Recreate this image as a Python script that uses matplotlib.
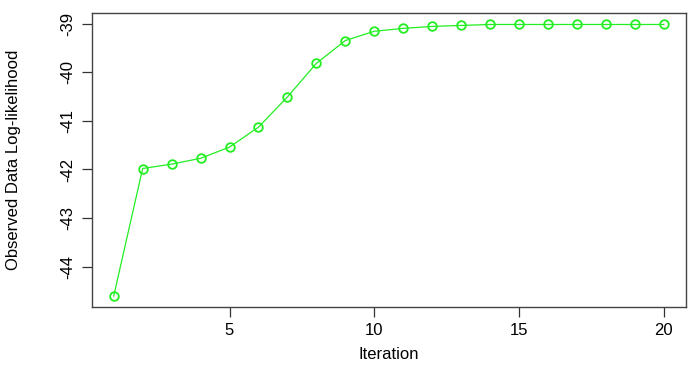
import matplotlib
matplotlib.use("Agg")
import matplotlib.pyplot as plt

iteration = list(range(1, 21))
loglik = [-44.60, -41.98, -41.89, -41.77, -41.54, -41.13, -40.51, -39.82, -39.35, -39.16,
          -39.10, -39.06, -39.04, -39.02, -39.02, -39.02, -39.02, -39.02, -39.02, -39.02]
xticks = [5, 10, 15, 20]
yticks = [-44, -43, -42, -41, -40, -39]

plt.rcParams['font.family'] = ['Liberation Sans', 'DejaVu Sans']
fig = plt.figure(figsize=(6.99, 3.69), dpi=100)
ax = fig.add_axes([0.1312, 0.1688, 0.981 - 0.1312, 0.964 - 0.1688])
ax.plot(iteration, loglik, color='#22ee22', lw=0.9, marker='o', ms=6.2,
        mfc='none', mec='#22ee22', mew=1.3)
ax.set_xlim(0.24, 20.76)
ax.set_ylim(-44.82, -38.79)
ax.set_xticks(xticks)
ax.set_yticks(yticks)
ax.set_yticklabels([str(t) for t in yticks], rotation=90, va='center')
ax.tick_params(direction='out', length=7, width=0.9, labelsize=12, pad=5, color='#333333')
for s in ax.spines.values():
    s.set_color('#444444')
    s.set_linewidth(1.0)
ax.set_xlabel('Iteration', fontsize=12, labelpad=6)
ax.set_ylabel('Observed Data Log-likelihood', fontsize=12, labelpad=28)
fig.savefig('out.png', dpi=100)
